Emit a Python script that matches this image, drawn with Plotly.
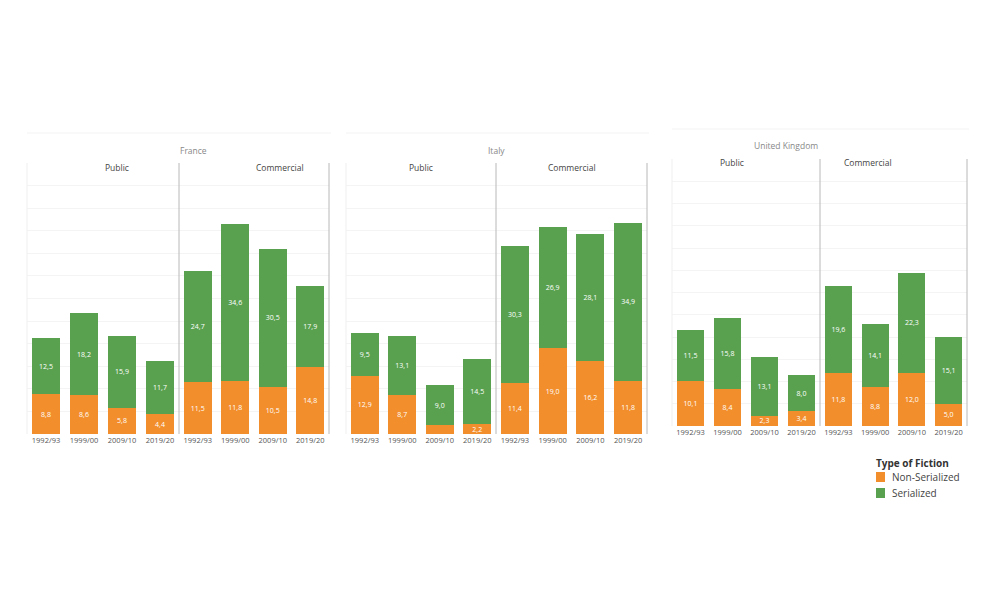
import plotly.graph_objects as go

# ---------------- data ----------------
periods = ["1992/93", "1999/00", "2009/10", "2019/20"]
countries = ["France", "Italy", "United Kingdom"]
channels = ["Public", "Commercial"]
series_names = ["Non-Serialized", "Serialized"]
legend_title = "Type of Fiction"

france_public_nonserial = [8.8, 8.6, 5.8, 4.4]
france_public_serial = [12.5, 18.2, 15.9, 11.7]
france_commercial_nonserial = [11.5, 11.8, 10.5, 14.8]
france_commercial_serial = [24.7, 34.6, 30.5, 17.9]

italy_public_nonserial = [12.9, 8.7, 1.9, 2.2]
italy_public_serial = [9.5, 13.1, 9.0, 14.5]
italy_commercial_nonserial = [11.4, 19.0, 16.2, 11.8]
italy_commercial_serial = [30.3, 26.9, 28.1, 34.9]

uk_public_nonserial = [10.1, 8.4, 2.3, 3.4]
uk_public_serial = [11.5, 15.8, 13.1, 8.0]
uk_commercial_nonserial = [11.8, 8.8, 12.0, 5.0]
uk_commercial_serial = [19.6, 14.1, 22.3, 15.1]

data = {
    ("France", "Public"): (france_public_nonserial, france_public_serial),
    ("France", "Commercial"): (france_commercial_nonserial, france_commercial_serial),
    ("Italy", "Public"): (italy_public_nonserial, italy_public_serial),
    ("Italy", "Commercial"): (italy_commercial_nonserial, italy_commercial_serial),
    ("United Kingdom", "Public"): (uk_public_nonserial, uk_public_serial),
    ("United Kingdom", "Commercial"): (uk_commercial_nonserial, uk_commercial_serial),
}

# ---------------- layout geometry (screen pixels) ----------------
OFF = 8                      # default body margin of the html page
W, H = 1000 - 2 * OFF, 600 - 2 * OFF
COLORS = {"Non-Serialized": "#F28E2B", "Serialized": "#59A14F"}
FONT = "Open Sans, Lato, sans-serif"

panels = {
    "France": dict(l=27, m=179, r=329, top=163, base=434, ty=143, hy=160, box=133),
    "Italy": dict(l=346, m=496, r=647, top=163, base=434, ty=143, hy=160, box=133),
    "United Kingdom": dict(l=672, m=820, r=967, top=159, base=426, ty=138, hy=155, box=129),
}


def px(x):
    return (x - OFF) / W


def py(y):
    return 1 - (y - OFF) / H


def fmt(v):
    return f"{v:.1f}".replace(".", ",") if v >= 2.0 else ""


fig = go.Figure()
layout_axes = {}
shapes = []
annotations = []
idx = 0
for c in countries:
    p = panels[c]
    for ch in channels:
        idx += 1
        xa = "x" if idx == 1 else f"x{idx}"
        ya = "y" if idx == 1 else f"y{idx}"
        x0, x1 = (p["l"], p["m"]) if ch == "Public" else (p["m"], p["r"])
        ns, s = data[(c, ch)]
        for name, vals in zip(series_names, (ns, s)):
            fig.add_trace(go.Bar(
                x=periods, y=vals, name=name, xaxis=xa, yaxis=ya,
                marker=dict(color=COLORS[name], line=dict(width=0)),
                text=[fmt(v) for v in vals], textposition="inside",
                insidetextanchor="middle", textangle=0, constraintext="none",
                textfont=dict(color="white", size=7, family=FONT),
                showlegend=False,
                hovertemplate=f"{c} / {ch}<br>%{{x}}<br>{name}: %{{y}}<extra></extra>",
            ))
        layout_axes["xaxis" if idx == 1 else f"xaxis{idx}"] = dict(
            domain=[px(x0), px(x1)], anchor=ya,
            type="category", showline=False, showgrid=False, zeroline=False,
            ticks="", tickfont=dict(size=7.5, color="#555", family=FONT),
        )
        layout_axes["yaxis" if idx == 1 else f"yaxis{idx}"] = dict(
            domain=[py(p["base"]), py(p["top"])], anchor=xa,
            range=[0, 60], dtick=5, showticklabels=False,
            showgrid=True, gridcolor="#f4f4f4", gridwidth=1,
            zeroline=False, showline=False,
        )
        annotations.append(dict(
            x=px((x0 + x1) / 2), y=py(p["hy"]), xref="paper", yref="paper",
            text=ch, showarrow=False, font=dict(size=8.5, color="#444", family=FONT),
        ))
    annotations.append(dict(
        x=px((p["l"] + p["r"]) / 2), y=py(p["ty"]), xref="paper", yref="paper",
        text=c, showarrow=False, font=dict(size=8.5, color="#888", family=FONT),
    ))
    for xl in (p["m"], p["r"]):
        shapes.append(dict(type="line", xref="paper", yref="paper",
                           x0=px(xl), x1=px(xl), y0=py(p["base"]), y1=py(p["top"]),
                           line=dict(color="#b8b8b8", width=1)))
    shapes.append(dict(type="line", xref="paper", yref="paper",
                       x0=px(p["l"]), x1=px(p["l"]), y0=py(p["base"]), y1=py(p["top"]),
                       line=dict(color="#efefef", width=1)))
    shapes.append(dict(type="line", xref="paper", yref="paper",
                       x0=px(p["l"]), x1=px(p["r"] + 2), y0=py(p["box"]), y1=py(p["box"]),
                       line=dict(color="#f3f3f3", width=1)))

# ---------------- legend (Tableau-style colour legend) ----------------
LEG_X, LEG_Y, ROW = 874, 463, 16
annotations.append(dict(
    x=px(LEG_X), y=py(LEG_Y), xref="paper", yref="paper", xanchor="left", yanchor="middle",
    text=f"<b>{legend_title}</b>", showarrow=False, font=dict(size=10, color="#333", family=FONT),
))
for i, name in enumerate(series_names):
    cy = LEG_Y + 14 + i * ROW
    shapes.append(dict(type="rect", xref="paper", yref="paper",
                       x0=px(LEG_X + 2), x1=px(LEG_X + 11), y0=py(cy - 5), y1=py(cy + 5),
                       fillcolor=COLORS[name], line=dict(width=0)))
    annotations.append(dict(
        x=px(LEG_X + 16), y=py(cy), xref="paper", yref="paper", xanchor="left", yanchor="middle",
        text=name, showarrow=False, font=dict(size=10, color="#444", family=FONT),
    ))

fig.update_layout(
    width=W, height=H,
    margin=dict(l=0, r=0, t=0, b=0),
    paper_bgcolor="white", plot_bgcolor="white",
    barmode="stack", bargap=0.26,
    font=dict(family=FONT),
    showlegend=False,
    shapes=shapes, annotations=annotations,
    **layout_axes,
)

fig.write_html("out.html")
